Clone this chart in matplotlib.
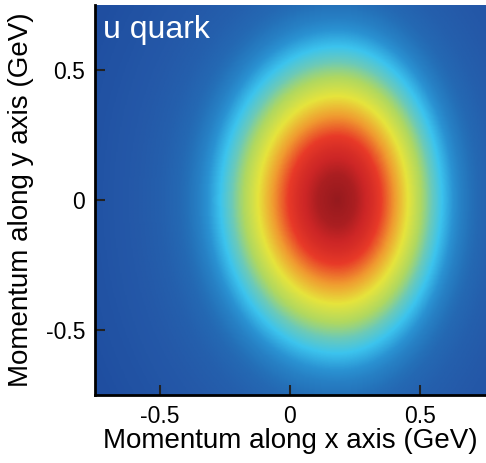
import numpy as np
import matplotlib
matplotlib.use("Agg")
import matplotlib.pyplot as plt
from matplotlib.colors import LinearSegmentedColormap

plt.rcParams['font.family'] = ['Liberation Sans', 'DejaVu Sans']

# peak position and shape of the distribution (GeV)
peak_x = 0.18
peak_y = 0.0
width_left = 0.76    # x extent relative to y extent, left of the peak
width_right = 0.68   # x extent relative to y extent, right of the peak

# intensity vs. distance from the peak, read going straight up from the peak
radius = [0.0, 0.1, 0.2, 0.3, 0.4, 0.5, 0.6, 0.7, 0.8, 0.9, 1.0, 1.2, 1.5]
level = [1.0, 0.96, 0.86, 0.73, 0.60, 0.49, 0.37, 0.25, 0.17, 0.13, 0.11, 0.08, 0.04]

xticks = [-0.5, 0, 0.5]
yticks = [-0.5, 0, 0.5]

cmap = LinearSegmentedColormap.from_list('quark', [
    (0.00, '#1a4498'),
    (0.10, '#2458a8'),
    (0.20, '#2470b8'),
    (0.30, '#2a92d2'),
    (0.38, '#3cc4ee'),
    (0.45, '#6ccab8'),
    (0.52, '#b0d860'),
    (0.60, '#e6e43c'),
    (0.70, '#f09a30'),
    (0.80, '#e83a28'),
    (0.90, '#cc2626'),
    (1.00, '#961a1e'),
])

gx = np.linspace(-0.75, 0.75, 301)
gy = np.linspace(-0.75, 0.75, 301)
X, Y = np.meshgrid(gx, gy)
dx = X - peak_x
sx = np.where(dx < 0, width_left, width_right)
R = np.sqrt((dx / sx) ** 2 + (Y - peak_y) ** 2)
density = np.interp(R, radius, level)

fig = plt.figure(figsize=(4.86, 4.63), dpi=100)
ax = fig.add_axes([0.195, 0.147, 0.803, 0.842])
ax.imshow(density, cmap=cmap, vmin=0, vmax=1, origin='lower',
          extent=[-0.75, 0.75, -0.75, 0.75], interpolation='bilinear', aspect='auto')

ax.text(0.022, 0.975, 'u quark', transform=ax.transAxes, color='white',
        fontsize=23, va='top', ha='left')

ax.set_xlim(-0.75, 0.75)
ax.set_ylim(-0.75, 0.75)
ax.set_xticks(xticks)
ax.set_yticks(yticks)
ax.set_xticklabels(['-0.5', '0', '0.5'])
ax.set_yticklabels(['-0.5', '0', '0.5'])
ax.tick_params(direction='in', length=7, width=1.5, labelsize=16.5, color='#222222', pad=7)
ax.spines['top'].set_visible(False)
ax.spines['right'].set_visible(False)
ax.spines['left'].set_linewidth(2)
ax.spines['bottom'].set_linewidth(2)
ax.set_xlabel('Momentum along x axis (GeV)', fontsize=20, labelpad=0)
ax.set_ylabel('Momentum along y axis (GeV)', fontsize=20, labelpad=8)

fig.savefig('out.png', dpi=100)
